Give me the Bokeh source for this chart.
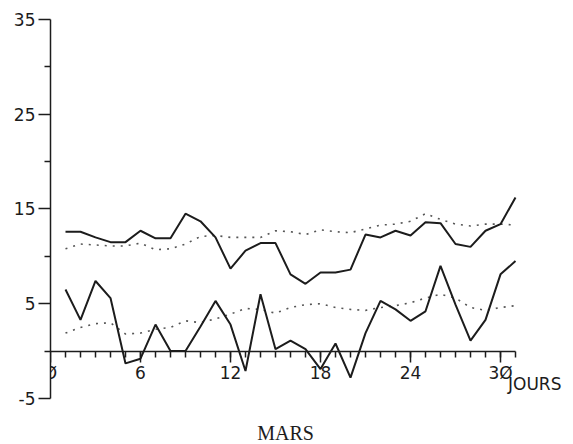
from bokeh.plotting import figure
from bokeh.models import LinearAxis, FixedTicker, Range1d
from bokeh.core.properties import value
from bokeh.embed import file_html
from bokeh.resources import INLINE

# Daily temperatures for March (°C)
days = list(range(1, 32))
t_max = [12.6, 12.6, 12.0, 11.5, 11.5, 12.7, 11.9, 11.9, 14.5, 13.7, 12.0, 8.7, 10.6, 11.4, 11.4, 8.1,
         7.1, 8.3, 8.3, 8.6, 12.3, 12.0, 12.7, 12.2, 13.6, 13.5, 11.3, 11.0, 12.7, 13.4, 16.2]
t_min = [6.5, 3.3, 7.4, 5.6, -1.3, -0.8, 2.8, 0.0, 0.0, 2.6, 5.3, 2.8, -2.1, 6.0, 0.2, 1.1,
         0.2, -1.9, 0.8, -2.8, 1.9, 5.3, 4.4, 3.2, 4.2, 9.0, 4.9, 1.1, 3.3, 8.1, 9.5]
normal_max = [10.8, 11.3, 11.2, 11.1, 11.1, 11.4, 10.7, 10.8, 11.3, 12.1, 12.2, 12.0, 12.0, 12.0, 12.7, 12.6,
              12.3, 12.8, 12.6, 12.5, 12.9, 13.3, 13.4, 13.7, 14.5, 13.9, 13.4, 13.2, 13.4, 13.4, 13.3]
normal_min = [1.9, 2.5, 2.9, 3.0, 1.8, 1.9, 2.3, 2.5, 3.2, 3.0, 3.4, 3.9, 4.5, 4.4, 4.0, 4.6,
              4.9, 5.0, 4.6, 4.4, 4.3, 4.6, 4.8, 5.1, 5.6, 6.0, 5.6, 4.6, 4.3, 4.6, 4.8]

x_ticks = [0, 6, 12, 18, 24, 30]
x_tick_labels = {0: "Ø", 30: "3Ø"}
y_ticks = [-5, 5, 15, 25, 35]
y_tick_labels = {-5: "-5"}
y_minor = [0, 10, 20, 30]

INK = "#1c1c1c"
FONT = "DejaVu Sans"

W, H = 573, 444
px_per_day = 15.0
px_per_deg = 9.475
left, top = 50, 10
zero_px = 350.6

x_end = (W - left) / px_per_day
y_top = (zero_px - top) / px_per_deg
y_bot = -(H - zero_px) / px_per_deg

p = figure(width=W, height=H, output_backend="svg", toolbar_location=None,
           x_axis_type=None, y_axis_type=None,
           x_range=Range1d(0, x_end), y_range=Range1d(y_bot, y_top),
           min_border_left=left, min_border_right=0, min_border_top=top, min_border_bottom=0)
p.outline_line_color = None
p.xgrid.visible = False
p.ygrid.visible = False
p.background_fill_color = "white"
p.border_fill_color = "white"

# vertical temperature axis
yax = LinearAxis(bounds=(-5, 35), ticker=FixedTicker(ticks=y_ticks, minor_ticks=y_minor))
yax.major_label_overrides = y_tick_labels
yax.axis_line_color = INK
yax.axis_line_width = 1.5
yax.major_tick_line_color = INK
yax.major_tick_line_width = 1.5
yax.major_tick_in = 0
yax.major_tick_out = 12
yax.minor_tick_line_color = INK
yax.minor_tick_line_width = 1.5
yax.minor_tick_in = 0
yax.minor_tick_out = 6
yax.major_label_standoff = 3
yax.major_label_text_font = FONT
yax.major_label_text_font_size = "17px"
yax.major_label_text_color = INK
p.add_layout(yax, "left")

# day axis drawn along the zero line
xax = LinearAxis(fixed_location=0, bounds=(0, 31),
                 ticker=FixedTicker(ticks=x_ticks, minor_ticks=days))
xax.major_label_overrides = x_tick_labels
xax.axis_line_color = INK
xax.axis_line_width = 1.5
xax.major_tick_line_color = INK
xax.major_tick_line_width = 1.5
xax.major_tick_in = 0
xax.major_tick_out = 11
xax.minor_tick_line_color = INK
xax.minor_tick_line_width = 1.5
xax.minor_tick_in = 0
xax.minor_tick_out = 6
xax.major_label_standoff = 1
xax.major_label_text_font = FONT
xax.major_label_text_font_size = "17px"
xax.major_label_text_color = INK
p.add_layout(xax, "below")

# normals (dotted) and observed values (solid)
p.line(days, normal_max, line_color="#555555", line_width=1.6, line_dash="2 6")
p.line(days, normal_min, line_color="#555555", line_width=1.6, line_dash="2 6")
p.line(days, t_max, line_color=INK, line_width=2)
p.line(days, t_min, line_color=INK, line_width=2)

p.text(x=[30.5], y=[-3.5], text=["JOURS"], text_font=value(FONT), text_font_size="17px",
       text_color=INK, text_align="left", text_baseline="middle")
p.text(x=[15.67], y=[-8.6], text=["MARS"], text_font=value("Liberation Serif"), text_font_size="20px",
       text_color=INK, text_align="center", text_baseline="middle")

open("out.html", "w").write(file_html(p, INLINE))
